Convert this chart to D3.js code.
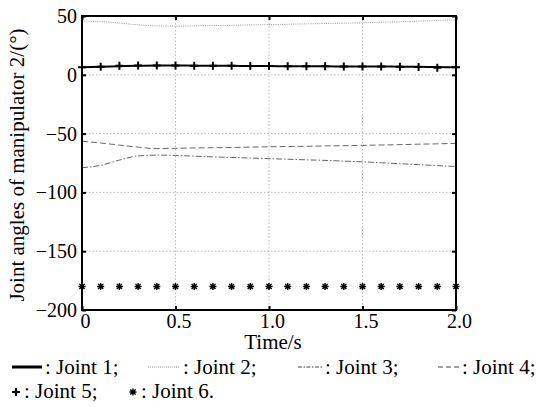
<!DOCTYPE html>
<html><head><meta charset="utf-8"><script src="https://cdn.jsdelivr.net/npm/d3@7"></script>
<style>
  @font-face { font-family: "ChartSerif"; src: local("Liberation Serif"), local("LiberationSerif"), local("Times New Roman"); }
</style>
</head>
<body style="margin:0">
<script>
// values
var time = [0, 0.1, 0.2, 0.3, 0.4, 0.5, 0.6, 0.7, 0.8, 0.9, 1.0,
            1.1, 1.2, 1.3, 1.4, 1.5, 1.6, 1.7, 1.8, 1.9, 2.0];
var joint1 = [6.5, 6.8, 7.3, 7.7, 7.9, 7.9, 7.8, 7.7, 7.6, 7.5, 7.4,
              7.3, 7.2, 7.2, 7.1, 7.0, 7.0, 6.9, 6.8, 6.6, 6.4];
var joint2 = [45.7, 45.2, 44.0, 42.5, 41.6, 41.4, 41.6, 41.9, 42.1, 42.4, 42.7,
              43.0, 43.3, 43.6, 43.9, 44.3, 44.7, 45.1, 45.6, 46.2, 46.8];
var joint3 = [-79, -77, -72.5, -69, -68.3, -68.6, -69.2, -69.8, -70.3, -70.8, -71.3,
              -71.8, -72.3, -72.8, -73.4, -74, -74.8, -75.6, -76.4, -77.2, -78];
var joint4 = [-56.5, -58, -59.8, -61.5, -62.8, -62.5, -62.2, -62, -61.8, -61.5, -61.2,
              -61, -60.8, -60.5, -60.3, -60, -59.7, -59.4, -59, -58.7, -58.3];
var joint5 = [6.5, 6.9, 7.6, 7.9, 8.0, 7.9, 7.8, 7.7, 7.6, 7.5, 7.4,
              7.3, 7.2, 7.2, 7.1, 7.0, 7.0, 6.9, 6.7, 5.9, 6.4];
var joint6 = [-180, -180, -180, -180, -180, -180, -180, -180, -180, -180, -180,
              -180, -180, -180, -180, -180, -180, -180, -180, -180, -180];
var xTicks = [0, 0.5, 1.0, 1.5, 2.0];
var xTickLabels = ["0", "0.5", "1.0", "1.5", "2.0"];
var yTicks = [50, 0, -50, -100, -150, -200];
var legendLabels = [": Joint 1;", ": Joint 2;", ": Joint 3;", ": Joint 4;", ": Joint 5;", ": Joint 6."];

var F = '"Liberation Serif", "ChartSerif", "Times New Roman", serif';

// set the face inline with priority so nothing else can override it
function serif(sel, size) {
  return sel.style("font-family", F, "important")
    .style("font-size", size + "px", "important")
    .attr("fill", "#000");
}

var svgWidth = 536, svgHeight = 407;
var margin = { top: 16, right: 80, bottom: 97, left: 82 };
var width = svgWidth - margin.left - margin.right;
var height = svgHeight - margin.top - margin.bottom;

var svg = d3.select("body").append("svg").attr("width", svgWidth).attr("height", svgHeight);

var chartGroup = svg.append("g")
  .attr("transform", `translate(${margin.left}, ${margin.top})`);

var x = d3.scaleLinear().domain([0, 2]).range([0, width]);
var y = d3.scaleLinear().domain([-200, 50]).range([height, 0]);

// dotted grid
chartGroup.append("g").selectAll("line")
  .data(xTicks.slice(1, -1)).enter().append("line")
  .attr("x1", d => x(d)).attr("x2", d => x(d))
  .attr("y1", 0).attr("y2", height)
  .attr("stroke", "#bbb").attr("stroke-dasharray", "1.5,2");
chartGroup.append("g").selectAll("line")
  .data(yTicks.slice(1, -1)).enter().append("line")
  .attr("x1", 0).attr("x2", width)
  .attr("y1", d => y(d)).attr("y2", d => y(d))
  .attr("stroke", "#bbb").attr("stroke-dasharray", "1.5,2");

// lines
function series(vals) { return vals.map((v, i) => [time[i], v]); }
var line = d3.line().x(d => x(d[0])).y(d => y(d[1])).curve(d3.curveMonotoneX);

chartGroup.append("path").datum(series(joint2))
  .attr("d", line).attr("fill", "none")
  .attr("stroke", "#999").attr("stroke-width", 1).attr("stroke-dasharray", "1,1.2");
chartGroup.append("path").datum(series(joint3))
  .attr("d", line).attr("fill", "none")
  .attr("stroke", "#666").attr("stroke-width", 1).attr("stroke-dasharray", "6,2,1.5,2");
chartGroup.append("path").datum(series(joint4))
  .attr("d", line).attr("fill", "none")
  .attr("stroke", "#666").attr("stroke-width", 1).attr("stroke-dasharray", "6,3");
chartGroup.append("path").datum(series(joint1))
  .attr("d", line).attr("fill", "none")
  .attr("stroke", "#000").attr("stroke-width", 2);

// markers
var plusPath = "M-4,0H4M0,-4V4";
var starPath = "M-3.5,0H3.5M0,-3.5V3.5M-2.6,-2.6L2.6,2.6M-2.6,2.6L2.6,-2.6";
chartGroup.append("g").selectAll("path")
  .data(series(joint5)).enter().append("path")
  .attr("transform", d => `translate(${x(d[0])},${y(d[1])})`)
  .attr("d", plusPath).attr("stroke", "#000").attr("stroke-width", 2);
chartGroup.append("g").selectAll("path")
  .data(series(joint6)).enter().append("path")
  .attr("transform", d => `translate(${x(d[0])},${y(d[1])})`)
  .attr("d", starPath).attr("stroke", "#000").attr("stroke-width", 1.4);

// axes, ticks pointing inward on all four sides
var bottomAxis = d3.axisBottom(x).tickValues(xTicks).tickSize(-4).tickPadding(4)
  .tickFormat((d, i) => xTickLabels[i]);
var topAxis = d3.axisTop(x).tickValues(xTicks).tickSize(-4).tickFormat("");
var leftAxis = d3.axisLeft(y).tickValues(yTicks).tickSize(-4).tickPadding(5)
  .tickFormat(d => d < 0 ? "\u2212" + Math.abs(d) : d);
var rightAxis = d3.axisRight(y).tickValues(yTicks).tickSize(-4).tickFormat("");

function styleAxis(g, keepText) {
  g.attr("font-family", null).attr("font-size", null);
  g.select(".domain").remove();
  g.selectAll(".tick line").attr("stroke", "#000").attr("stroke-width", 2);
  if (keepText) serif(g.selectAll(".tick text"), 20);
  else g.selectAll(".tick text").remove();
}
var xAxis = chartGroup.append("g").attr("transform", `translate(0,${height})`).call(bottomAxis);
styleAxis(xAxis, true);
xAxis.selectAll(".tick text").attr("dx", 3);
styleAxis(chartGroup.append("g").call(topAxis), false);
styleAxis(chartGroup.append("g").call(leftAxis), true);
styleAxis(chartGroup.append("g").attr("transform", `translate(${width},0)`).call(rightAxis), false);

// box
chartGroup.append("rect")
  .attr("width", width).attr("height", height)
  .attr("fill", "none").attr("stroke", "#000").attr("stroke-width", 2);

// axis titles
serif(svg.append("text"), 21)
  .attr("x", 273).attr("y", 349)
  .attr("text-anchor", "middle")
  .text("Time/s");
serif(svg.append("text"), 21)
  .attr("transform", `translate(24, ${margin.top + height / 2 + 2}) rotate(-90)`)
  .attr("text-anchor", "middle")
  .text("Joint angles of manipulator 2/(\u00b0)");

// legend
var legend = svg.append("g");
var row1 = [
  { x1: 12, x2: 42, tx: 45, color: "#000", w: 3, dash: null },
  { x1: 148, x2: 180, tx: 183, color: "#999", w: 1, dash: "1,1" },
  { x1: 298, x2: 323, tx: 325, color: "#444", w: 1, dash: "4,1.5,1.5,1.5" },
  { x1: 438, x2: 460, tx: 462, color: "#444", w: 1.2, dash: "5,3" }
];
row1.forEach(function(d, i) {
  legend.append("line")
    .attr("x1", d.x1).attr("x2", d.x2).attr("y1", 367).attr("y2", 367)
    .attr("stroke", d.color).attr("stroke-width", d.w)
    .attr("stroke-dasharray", d.dash);
  serif(legend.append("text"), 21).attr("x", d.tx).attr("y", 374)
    .text(legendLabels[i]);
});
legend.append("path").attr("transform", "translate(16,392)")
  .attr("d", plusPath).attr("stroke", "#000").attr("stroke-width", 2);
serif(legend.append("text"), 21).attr("x", 24).attr("y", 398)
  .text(legendLabels[4]);
legend.append("path").attr("transform", "translate(133,392)")
  .attr("d", starPath).attr("stroke", "#000").attr("stroke-width", 1.4);
serif(legend.append("text"), 21).attr("x", 141).attr("y", 398)
  .text(legendLabels[5]);
</script>
</body></html>
